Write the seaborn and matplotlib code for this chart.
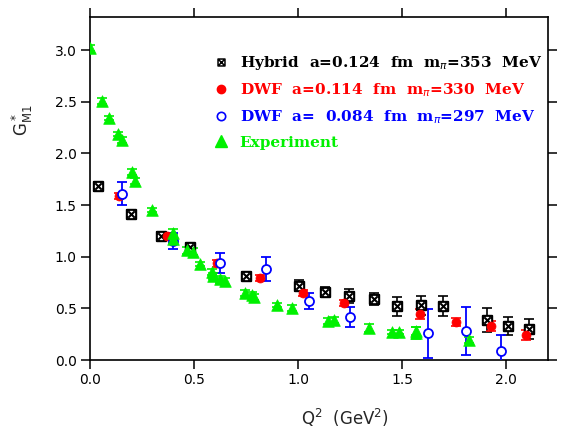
import matplotlib
matplotlib.use("Agg")
import matplotlib.pyplot as plt
import seaborn as sns
import numpy as np
import pandas as pd
from matplotlib.path import Path
from matplotlib.lines import Line2D

# ---- data ----
hyb_x = [0.04, 0.196, 0.342, 0.481, 0.751, 1.004, 1.128, 1.246, 1.364, 1.476, 1.588, 1.697, 1.909, 2.01, 2.111]
hyb_y = [1.68, 1.41, 1.20, 1.09, 0.81, 0.72, 0.66, 0.62, 0.59, 0.52, 0.53, 0.52, 0.39, 0.33, 0.30]
hyb_e = [0.04, 0.04, 0.04, 0.04, 0.04, 0.05, 0.05, 0.065, 0.06, 0.09, 0.09, 0.097, 0.115, 0.087, 0.097]

dwf1_x = [0.141, 0.372, 0.61, 0.818, 1.024, 1.219, 1.583, 1.758, 1.925, 2.092]
dwf1_y = [1.59, 1.20, 0.935, 0.79, 0.645, 0.548, 0.445, 0.37, 0.33, 0.24]
dwf1_e = [0.03, 0.03, 0.03, 0.03, 0.03, 0.03, 0.05, 0.04, 0.05, 0.05]

dwf2_x = [0.152, 0.398, 0.626, 0.845, 1.052, 1.251, 1.625, 1.805, 1.973]
dwf2_y = [1.61, 1.15, 0.935, 0.88, 0.574, 0.413, 0.258, 0.28, 0.09]
dwf2_e = [0.11, 0.08, 0.097, 0.116, 0.077, 0.097, 0.24, 0.234, 0.15]

exp_x = [0.0, 0.059, 0.091, 0.133, 0.152, 0.2, 0.217, 0.3, 0.401, 0.401, 0.465, 0.497, 0.53,
         0.585, 0.593, 0.626, 0.65, 0.746, 0.778, 0.786, 0.898, 0.97, 1.142, 1.171, 1.34,
         1.452, 1.484, 1.564, 1.564, 1.82]
exp_y = [3.02, 2.51, 2.34, 2.19, 2.13, 1.82, 1.73, 1.45, 1.23, 1.17, 1.06, 1.05, 0.93,
         0.855, 0.81, 0.78, 0.76, 0.645, 0.63, 0.61, 0.53, 0.50, 0.38, 0.39, 0.31,
         0.275, 0.275, 0.26, 0.28, 0.19]
exp_e = [0.03, 0.03, 0.02, 0.02, 0.03, 0.03, 0.03, 0.02, 0.04, 0.04, 0.03, 0.03, 0.02,
         0.03, 0.03, 0.03, 0.03, 0.03, 0.03, 0.03, 0.02, 0.03, 0.03, 0.03, 0.04,
         0.02, 0.02, 0.06, 0.04, 0.03]

labels = ["Hybrid  a=0.124  fm  m$_\\pi$=353  MeV",
          "DWF  a=0.114  fm  m$_\\pi$=330  MeV",
          "DWF  a=  0.084  fm  m$_\\pi$=297  MeV",
          "Experiment"]
colors = ["black", "#ff0000", "#0000ff", "#00f000"]

x_ticks = [0.0, 0.5, 1.0, 1.5, 2.0]
y_ticks = [0.0, 0.5, 1.0, 1.5, 2.0, 2.5, 3.0]

# ---- style ----
sns.set_theme(style="ticks")
plt.rcParams["font.family"] = ["DejaVu Sans"]
plt.rcParams["mathtext.fontset"] = "dejavusans"

fig = plt.figure(figsize=(5.62, 4.30), dpi=100)
ax = fig.add_axes([90/562, 70/430, (548-90)/562, (360-17)/430])

# custom boxed-x marker
verts = [(-1, -1), (1, -1), (1, 1), (-1, 1), (-1, -1),
         (-0.7, -0.7), (0.7, 0.7), (-0.7, 0.7), (0.7, -0.7)]
codes = [Path.MOVETO, Path.LINETO, Path.LINETO, Path.LINETO, Path.CLOSEPOLY,
         Path.MOVETO, Path.LINETO, Path.MOVETO, Path.LINETO]
boxx = Path(verts, codes)

df_h = pd.DataFrame({"x": hyb_x, "y": hyb_y, "e": hyb_e})
df_r = pd.DataFrame({"x": dwf1_x, "y": dwf1_y, "e": dwf1_e})
df_b = pd.DataFrame({"x": dwf2_x, "y": dwf2_y, "e": dwf2_e})
df_g = pd.DataFrame({"x": exp_x, "y": exp_y, "e": exp_e})

# error bars
ax.errorbar(df_h.x, df_h.y, yerr=df_h.e, fmt="none", ecolor="black", elinewidth=1.2, capsize=3.5, capthick=1.2, zorder=2)
ax.errorbar(df_r.x, df_r.y, yerr=df_r.e, fmt="none", ecolor=colors[1], elinewidth=1.2, capsize=3.5, capthick=1.2, zorder=3)
ax.errorbar(df_b.x, df_b.y, yerr=df_b.e, fmt="none", ecolor=colors[2], elinewidth=1.3, capsize=3.5, capthick=1.3, zorder=4)
ax.errorbar(df_g.x, df_g.y, yerr=df_g.e, fmt="none", ecolor=colors[3], elinewidth=1.2, capsize=3.5, capthick=1.2, zorder=5)

sns.scatterplot(data=df_h, x="x", y="y", ax=ax, marker=boxx, s=45, facecolor="white",
                edgecolor="black", linewidth=1.5, zorder=6, legend=False)
sns.scatterplot(data=df_r, x="x", y="y", ax=ax, marker="o", s=42, color=colors[1],
                edgecolor=colors[1], linewidth=0.5, zorder=7, legend=False)
sns.scatterplot(data=df_b, x="x", y="y", ax=ax, marker="o", s=42, facecolor="white",
                edgecolor=colors[2], linewidth=1.3, zorder=8, legend=False)
sns.scatterplot(data=df_g, x="x", y="y", ax=ax, marker="^", s=70, color=colors[3],
                edgecolor=colors[3], linewidth=0.5, zorder=9, legend=False)

ax.set_xlim(0, 2.2)
ax.set_ylim(0, 3.32)
ax.set_xticks(x_ticks)
ax.set_yticks(y_ticks)
ax.set_xticklabels([f"{t:.1f}" for t in x_ticks])
ax.set_yticklabels([f"{t:.1f}" for t in y_ticks])
ax.tick_params(axis="both", which="both", direction="out", length=6.5, width=1.1,
               labelsize=10, colors="black", top=True, right=True, pad=3)
for s in ax.spines.values():
    s.set_visible(True)
    s.set_color("black")
    s.set_linewidth(1.2)
ax.set_xlabel("")
ax.set_ylabel("")
ax.grid(False)

fig.text(22/562, 1 - 120/430, r"G$^*_{\rm M1}$", rotation=90, ha="center", va="center", fontsize=12)
fig.text(345/562, 1 - 418/430, r"Q$^2$  (GeV$^2$)", ha="center", va="center", fontsize=12)

# legend
handles = [
    Line2D([], [], linestyle="none", marker=boxx, markersize=5, markerfacecolor="white", markeredgecolor="black", markeredgewidth=1.1),
    Line2D([], [], linestyle="none", marker="o", markersize=6, color=colors[1]),
    Line2D([], [], linestyle="none", marker="o", markersize=6, markerfacecolor="white", markeredgecolor=colors[2], markeredgewidth=1.2),
    Line2D([], [], linestyle="none", marker="^", markersize=8, color=colors[3]),
]
leg = ax.legend(handles, labels, loc="upper left", bbox_to_anchor=((213-90)/458, 1 - (54-17)/343),
                frameon=False, handlelength=1.0, handletextpad=0.75, labelspacing=0.62,
                borderaxespad=0, borderpad=0,
                prop={"family": "DejaVu Serif", "weight": "bold", "size": 11},
                labelcolor=colors)

fig.savefig("out.png", dpi=100)
